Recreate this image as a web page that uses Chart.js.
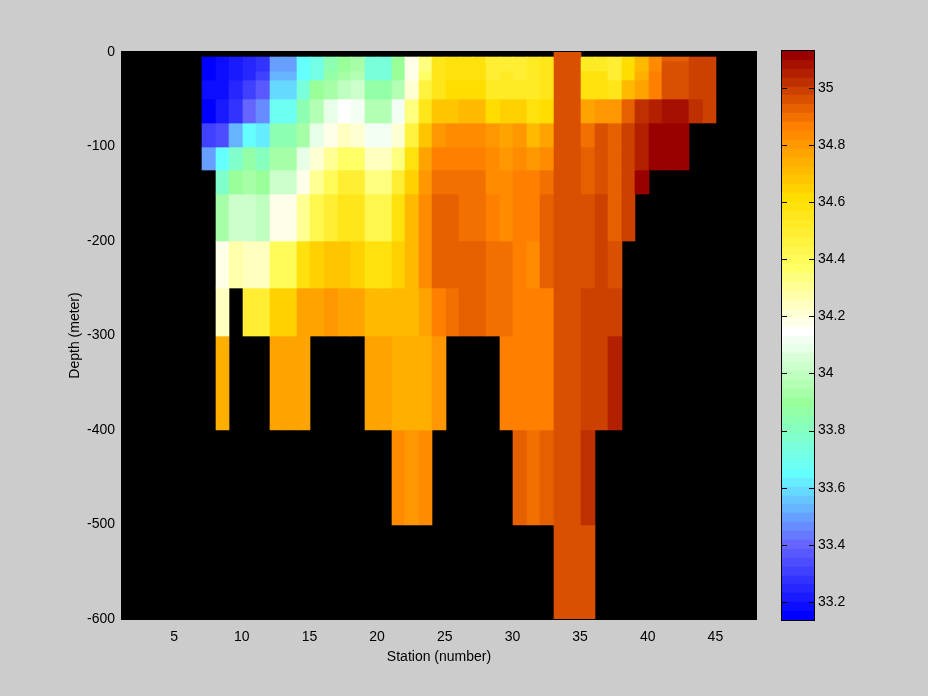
<!DOCTYPE html>
<html><head><meta charset="utf-8">
<style>html,body{margin:0;padding:0;background:#cccccc;overflow:hidden}
canvas{position:absolute;top:0}</style>
<script src="https://cdn.jsdelivr.net/npm/chart.js@4"></script></head>
<body><canvas id="main" width="928" height="696" style="left:0"></canvas>
<canvas id="bar" width="158" height="696" style="left:770px"></canvas>
<script>
const _ = null;
const firstStation = 7;
const depthEdges = [0,-5,-10,-20,-30,-50,-75,-100,-125,-150,-200,-250,-300,-400,-500,-600];
const colorLimits = [33.137, 35.129];
const colorbarTicks = [33.2,33.4,33.6,33.8,34,34.2,34.4,34.6,34.8,35];
const colormap = ['#0000ff','#0d0dff','#1a1aff','#2626ff','#3333ff','#4040ff','#4d4dff','#5959ff','#6666ff','#6679ff','#668cff','#669fff','#66b3ff','#66c6ff','#66d9ff','#66ecff','#66ffff','#6cfff2','#73ffe6','#79ffd9','#80ffcc','#86ffbf','#8cffb3','#93ffa6','#99ff99','#a6ffa6','#b3ffb3','#bfffbf','#ccffcc','#d9ffd9','#e6ffe6','#f2fff2','#ffffff','#ffffe9','#ffffd4','#ffffbf','#ffffa9','#ffff94','#ffff7f','#ffff66','#fffb59','#fff74d','#fff340','#ffee33','#ffea26','#ffe61a','#ffe20d','#ffdd00','#ffd100','#ffc600','#ffba00','#ffaf00','#ffa300','#ff9800','#ff8c00','#ff8000','#f27000','#e66000','#d95000','#cc4000','#bf3000','#b32000','#a61000','#990000'];
// salinity per depth layer, stations 7..44
const layer0 = [_,_,_,_,_,_,_,_,_,_,_,_,_,_,_,_,_,_,_,_,_,_,_,_,_,_,34.96,34.96,_,_,_,_,_,_,_,_,_,_];
const layer1 = [33.15,33.18,33.22,33.25,33.28,33.50,33.50,33.65,33.71,33.84,33.90,33.93,33.74,33.74,33.90,34.18,34.34,34.55,34.58,34.58,34.58,34.49,34.49,34.49,34.52,34.55,34.96,34.96,34.52,34.52,34.49,34.62,34.71,34.83,34.93,34.93,34.99,34.99];
const layer2 = [33.15,33.18,33.22,33.25,33.28,33.50,33.50,33.65,33.71,33.84,33.90,33.93,33.74,33.74,33.90,34.18,34.34,34.55,34.58,34.58,34.58,34.49,34.49,34.49,34.52,34.55,34.96,34.96,34.52,34.52,34.49,34.62,34.71,34.83,34.96,34.96,34.99,34.99];
const layer3 = [33.15,33.18,33.22,33.25,33.31,33.53,33.53,33.65,33.71,33.87,33.93,33.96,33.74,33.74,33.90,34.18,34.37,34.55,34.58,34.58,34.58,34.49,34.52,34.49,34.52,34.55,34.96,34.96,34.58,34.58,34.49,34.62,34.74,34.86,34.96,34.96,34.99,34.99];
const layer4 = [33.18,33.18,33.25,33.31,33.37,33.59,33.59,33.74,33.90,33.93,33.99,34.02,33.87,33.87,33.96,34.21,34.46,34.55,34.62,34.62,34.62,34.52,34.52,34.52,34.52,34.55,34.96,34.96,34.58,34.58,34.55,34.71,34.77,34.86,34.96,34.96,34.99,34.99];
const layer5 = [33.15,33.22,33.28,33.40,33.46,33.68,33.68,33.84,33.96,34.09,34.15,34.12,33.96,33.96,34.12,34.34,34.55,34.68,34.68,34.71,34.71,34.62,34.65,34.65,34.58,34.62,34.96,34.96,34.77,34.80,34.80,34.93,35.02,35.05,35.08,35.08,35.02,34.99];
const layer6 = [33.31,33.34,33.53,33.65,33.62,33.84,33.84,33.93,34.09,34.18,34.24,34.21,34.12,34.12,34.21,34.46,34.68,34.80,34.83,34.83,34.83,34.80,34.77,34.80,34.71,34.77,34.96,34.96,34.90,34.96,34.93,34.99,35.05,35.11,35.11,35.11,_,_];
const layer7 = [33.50,33.65,33.78,33.87,33.81,33.93,33.93,34.09,34.21,34.30,34.37,34.37,34.24,34.24,34.34,34.58,34.77,34.86,34.86,34.86,34.86,34.83,34.80,34.83,34.80,34.83,34.96,34.96,34.93,34.96,34.93,34.99,35.05,35.11,35.11,35.11,_,_];
const layer8 = [_,33.78,33.90,33.93,33.90,34.02,34.02,34.18,34.30,34.40,34.49,34.49,34.34,34.34,34.49,34.65,34.80,34.90,34.90,34.90,34.90,34.83,34.83,34.86,34.86,34.90,34.96,34.96,34.93,34.96,34.93,34.99,35.11,_,_,_,_,_];
const layer9 = [_,33.93,34.02,34.02,33.99,34.18,34.18,34.30,34.43,34.49,34.55,34.55,34.43,34.43,34.58,34.71,34.83,34.93,34.93,34.90,34.90,34.86,34.83,34.86,34.86,34.93,34.96,34.96,34.96,34.99,34.93,34.99,_,_,_,_,_,_];
const layer10 = [_,34.18,34.27,34.24,34.24,34.40,34.40,34.58,34.65,34.68,34.68,34.65,34.58,34.58,34.65,34.71,34.83,34.93,34.93,34.93,34.93,34.90,34.90,34.86,34.83,34.93,34.96,34.96,34.96,34.99,34.96,_,_,_,_,_,_,_];
const layer11 = [_,34.24,_,34.49,34.49,34.65,34.65,34.77,34.77,34.80,34.77,34.77,34.71,34.71,34.71,34.71,34.77,34.86,34.90,34.93,34.93,34.90,34.90,34.86,34.86,34.86,34.96,34.96,34.99,34.99,34.99,_,_,_,_,_,_,_];
const layer12 = [_,34.74,_,_,_,34.77,34.77,34.77,_,_,_,_,34.77,34.77,34.74,34.74,34.74,34.80,_,_,_,_,34.86,34.86,34.86,34.86,34.96,34.96,34.99,34.99,35.05,_,_,_,_,_,_,_];
const layer13 = [_,_,_,_,_,_,_,_,_,_,_,_,_,_,34.83,34.80,34.83,_,_,_,_,_,_,34.93,34.90,34.93,34.96,34.96,35.02,_,_,_,_,_,_,_,_,_];
const layer14 = [_,_,_,_,_,_,_,_,_,_,_,_,_,_,_,_,_,_,_,_,_,_,_,_,_,_,34.96,34.96,34.96,_,_,_,_,_,_,_,_,_];
const layers = [layer0,layer1,layer2,layer3,layer4,layer5,layer6,layer7,layer8,layer9,layer10,layer11,layer12,layer13,layer14];

const FONT = {family:'"Liberation Sans", sans-serif', size:14};
const colorOf = v => {
  const i = Math.floor((v-colorLimits[0])/(colorLimits[1]-colorLimits[0])*colormap.length);
  return colormap[Math.max(0,Math.min(colormap.length-1,i))];
};
// snap bars to whole pixels so neighbouring cells leave no seams
const snap = {id:'snap', afterDatasetsUpdate(chart){
  chart.getSortedVisibleDatasetMetas().forEach(m=>m.data.forEach(el=>{
    if(el.skip) return;
    const l=Math.round(el.x-el.width/2), r=Math.round(el.x+el.width/2);
    const y=Math.round(el.y), b=Math.round(el.base);
    el.x=(l+r)/2; el.width=r-l; el.y=y; el.base=b; el.height=b-y;
  }));
}};
const plotBackground = {id:'plotBackground', beforeDatasetsDraw(chart){
  const a=chart.chartArea, c=chart.ctx;
  c.save(); c.fillStyle='#000'; c.fillRect(a.left,a.top-1,a.right-a.left,a.bottom-a.top+2); c.restore();
}};
const datasets = layers.map((row,r)=>{
  const cells = row.map((v,k)=>({v,s:firstStation+k})).filter(c=>c.v!==null);
  return {
    data: cells.map(c=>({x:c.s+0.5, y:[depthEdges[r],depthEdges[r+1]]})),
    backgroundColor: cells.map(c=>colorOf(c.v)),
    borderWidth:0, grouped:false, categoryPercentage:1, barPercentage:1
  };
});
new Chart(document.getElementById('main'),{
  type:'bar',
  data:{datasets},
  plugins:[plotBackground,snap],
  options:{
    responsive:false, animation:false, devicePixelRatio:1,
    layout:{padding:{left:0,right:171,top:52,bottom:0}},
    plugins:{legend:{display:false},tooltip:{enabled:false}},
    scales:{
      x:{type:'linear',min:1,max:48,offset:false,
        afterFit(s){s.height=77;},
        grid:{display:false,drawTicks:false},border:{display:false},
        ticks:{stepSize:5,includeBounds:false,autoSkip:false,color:'#000',font:FONT,padding:10,maxRotation:0,labelOffset:-1},
        title:{display:true,text:'Station (number)',color:'#000',font:FONT,padding:{top:0,bottom:30}}},
      y:{type:'linear',min:-600,max:0,
        afterFit(s){s.width=121;},
        grid:{display:false,drawTicks:false},border:{display:false},
        ticks:{stepSize:100,color:'#000',font:FONT,padding:6},
        title:{display:true,text:'Depth (meter)',color:'#000',font:FONT,padding:{top:67,bottom:0}}}
    }
  }
});
// colour bar
const levelEdge = i => colorLimits[0]+(colorLimits[1]-colorLimits[0])*i/colormap.length;
const frame = {id:'frame', afterDatasetsDraw(chart){
  const a=chart.chartArea, c=chart.ctx, y=chart.scales.y;
  c.save(); c.strokeStyle='#000'; c.lineWidth=1;
  c.strokeRect(a.left-0.5,a.top-0.5,a.right-a.left+1,a.bottom-a.top+1);
  colorbarTicks.forEach(t=>{
    const p=Math.round(y.getPixelForValue(t))+0.5;
    c.beginPath(); c.moveTo(a.left,p); c.lineTo(a.left+5,p); c.moveTo(a.right-5,p); c.lineTo(a.right,p); c.stroke();
  });
  c.restore();
}};
new Chart(document.getElementById('bar'),{
  type:'bar',
  data:{labels:[''],datasets:colormap.map((col,i)=>({
    data:[[levelEdge(i),levelEdge(i+1)]],backgroundColor:col,borderWidth:0,grouped:false,categoryPercentage:1,barPercentage:1}))},
  plugins:[snap,frame],
  options:{
    responsive:false, animation:false, devicePixelRatio:1,
    layout:{padding:{left:12,right:0,top:51,bottom:76}},
    plugins:{legend:{display:false},tooltip:{enabled:false}},
    scales:{
      x:{display:false},
      y:{type:'linear',position:'right',min:colorLimits[0],max:colorLimits[1],
        afterFit(s){s.width=114;},
        afterBuildTicks(s){s.ticks=colorbarTicks.map(value=>({value}));},
        grid:{display:false,drawTicks:false},border:{display:false},
        ticks:{color:'#000',font:FONT,padding:4,callback:v=>String(v)}}
    }
  }
});
</script></body></html>
